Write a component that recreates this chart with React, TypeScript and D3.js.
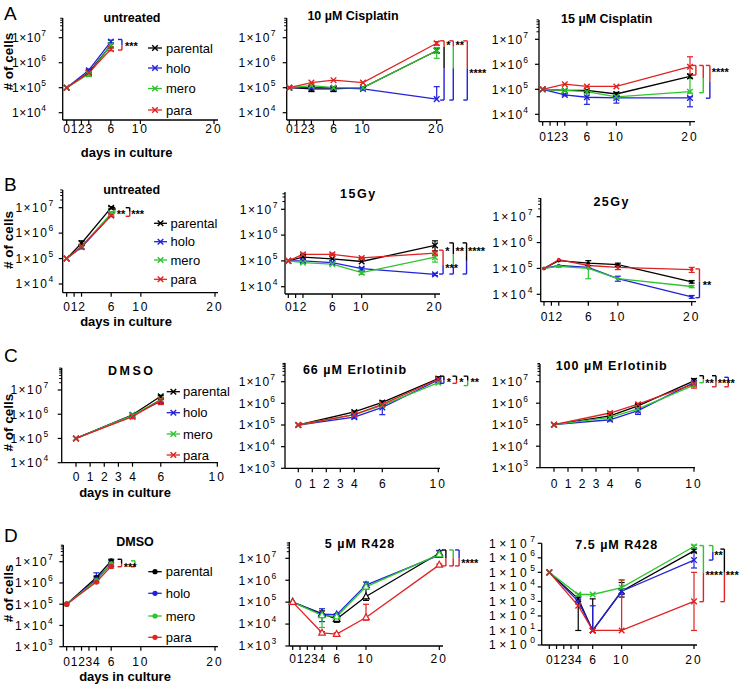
import React from "react";
import * as d3 from "d3";

type Pt = [number, number, number]; // mean, low, high
type Seg = [number, number, string];
type Bracket = { day: number; segs: Seg[] };
type Star = { day: number; value: number; text: string };

const K = "#000000", B = "#2222dc", G = "#2ec42e", R = "#e02222";
const seriesNames = ["parental", "holo", "mero", "para"];
const seriesColors = [K, B, G, R];

// ---------------- Row A ----------------
const A1_days = [0, 3, 6];
const A1_parental: Pt[] = [[1e5, 1e5, 1e5], [4e5, 3.3e5, 5e5], [5e6, 4e6, 6e6]];
const A1_holo: Pt[] = [[1e5, 1e5, 1e5], [5e5, 4e5, 5.6e5], [7e6, 6e6, 8e6]];
const A1_mero: Pt[] = [[1e5, 1e5, 1e5], [3.5e5, 2.8e5, 4.5e5], [5e6, 4e6, 6e6]];
const A1_para: Pt[] = [[1e5, 1e5, 1e5], [4e5, 3.5e5, 4.5e5], [3.5e6, 3e6, 4e6]];
const A1_brackets: Bracket[] = [{ day: 7.5, segs: [[8.5e6, 5e6, B], [5e6, 3.2e6, R]] }];
const A1_stars: Star[] = [{ day: 7.9, value: 5.5e6, text: "***" }];

const A2_days = [0, 3, 6, 10, 20];
const A2_parental: Pt[] = [[1e5, 1e5, 1e5], [9e4, 7e4, 1.1e5], [9e4, 7e4, 1.1e5], [1e5, 1e5, 1e5], [3e6, 2.5e6, 3.8e6]];
const A2_holo: Pt[] = [[1e5, 1e5, 1e5], [1e5, 1e5, 1e5], [1e5, 8e4, 1.1e5], [9e4, 8e4, 1e5], [3.5e4, 3.5e4, 1.1e5]];
const A2_mero: Pt[] = [[1e5, 1e5, 1e5], [1.2e5, 1e5, 1.4e5], [1e5, 1e5, 1e5], [1e5, 1e5, 1e5], [3e6, 1.5e6, 4e6]];
const A2_para: Pt[] = [[1e5, 1e5, 1e5], [1.6e5, 1.6e5, 1.6e5], [2e5, 2e5, 2e5], [1.6e5, 1.6e5, 1.6e5], [6e6, 5e6, 7e6]];
const A2_brackets: Bracket[] = [
  { day: 21.0, segs: [[7.5e6, 4.3e6, R], [4.3e6, 6e5, K], [6e5, 3.2e4, B]] },
  { day: 22.25, segs: [[7.5e6, 4.3e6, R], [4.3e6, 6e5, G], [6e5, 3.2e4, B]] },
  { day: 24.15, segs: [[7.5e6, 6e5, R], [6e5, 3.2e4, B]] },
];
const A2_stars: Star[] = [
  { day: 21.3, value: 6e6, text: "*" },
  { day: 22.55, value: 6e6, text: "**" },
  { day: 24.4, value: 4.7e5, text: "****" },
];

const A3_days = [0, 3, 6, 10, 20];
const A3_parental: Pt[] = [[1e5, 1e5, 1e5], [9e4, 9e4, 9e4], [9e4, 9e4, 9e4], [6.5e4, 5.5e4, 7.5e4], [3.3e5, 2.8e5, 4e5]];
const A3_holo: Pt[] = [[1e5, 1e5, 1e5], [6e4, 5.5e4, 6.5e4], [4.8e4, 2.5e4, 7.5e4], [4.5e4, 2.8e4, 5.5e4], [4.5e4, 2e4, 5e4]];
const A3_mero: Pt[] = [[1e5, 1e5, 1e5], [9e4, 9e4, 9e4], [8e4, 8e4, 8e4], [5e4, 5e4, 5e4], [8e4, 7e4, 3e5]];
const A3_para: Pt[] = [[1e5, 1e5, 1e5], [1.6e5, 1.6e5, 1.6e5], [1.3e5, 1.3e5, 1.3e5], [1.3e5, 1.3e5, 1.3e5], [8e5, 4e5, 2e6]];
const A3_brackets: Bracket[] = [
  { day: 20.8, segs: [[9e5, 3.7e5, R]] },
  { day: 21.8, segs: [[9e5, 2.8e5, R], [2.8e5, 7.3e4, G]] },
  { day: 22.7, segs: [[9e5, 2e5, R], [2e5, 4.4e4, B]] },
];
const A3_stars: Star[] = [{ day: 22.95, value: 5.9e5, text: "****" }];

// ---------------- Row B ----------------
const B1_days = [0, 2, 6];
const B1_parental: Pt[] = [[1e5, 1e5, 1e5], [4e5, 3.5e5, 5e5], [1e7, 9e6, 1.1e7]];
const B1_holo: Pt[] = [[1e5, 1e5, 1e5], [2.8e5, 2.4e5, 3.2e5], [5e6, 4.5e6, 6e6]];
const B1_mero: Pt[] = [[1e5, 1e5, 1e5], [3e5, 3e5, 3e5], [6e6, 5e6, 7e6]];
const B1_para: Pt[] = [[1e5, 1e5, 1e5], [3e5, 3e5, 3e5], [5e6, 4.5e6, 5.5e6]];
const B1_brackets: Bracket[] = [
  { day: 6.5, segs: [[1e7, 8e6, K], [8e6, 6e6, G]] },
  { day: 8.5, segs: [[1e7, 7e6, K], [7e6, 4.6e6, R]] },
];
const B1_stars: Star[] = [
  { day: 6.75, value: 6.5e6, text: "**" },
  { day: 8.7, value: 6.5e6, text: "***" },
];

const B2_days = [0, 2, 6, 10, 20];
const B2_parental: Pt[] = [[1e5, 1e5, 1e5], [1.4e5, 1.4e5, 1.4e5], [1.2e5, 1.2e5, 1.2e5], [9.5e4, 9.5e4, 9.5e4], [4e5, 2.5e5, 6e5]];
const B2_holo: Pt[] = [[1e5, 1e5, 1e5], [1e5, 1e5, 1e5], [8.5e4, 8.5e4, 8.5e4], [5e4, 4.2e4, 5.5e4], [3e4, 2.7e4, 3.3e4]];
const B2_mero: Pt[] = [[1e5, 1e5, 1e5], [8.5e4, 8.5e4, 8.5e4], [7.5e4, 7.5e4, 7.5e4], [3.5e4, 3e4, 4e4], [1.4e5, 9e4, 2e5]];
const B2_para: Pt[] = [[1e5, 1e5, 1e5], [1.8e5, 1.6e5, 2e5], [1.8e5, 1.6e5, 2e5], [1.3e5, 1.2e5, 1.4e5], [2e5, 1.6e5, 2.4e5]];
const B2_brackets: Bracket[] = [
  { day: 21.1, segs: [[2.6e5, 6.9e4, R], [6.9e4, 3.1e4, B]] },
  { day: 22.5, segs: [[5e5, 1.8e5, K], [1.8e5, 6e4, G], [6e4, 3.1e4, B]] },
  { day: 24.3, segs: [[5e5, 1e5, K], [1e5, 3.1e4, B]] },
];
const B2_stars: Star[] = [
  { day: 21.4, value: 2.9e5, text: "*" },
  { day: 22.8, value: 2.9e5, text: "**" },
  { day: 24.5, value: 2.9e5, text: "****" },
  { day: 21.4, value: 6.5e4, text: "***" },
];

const B3_days = [0, 2, 6, 10, 20];
const B3_parental: Pt[] = [[1e5, 1e5, 1e5], [2e5, 2e5, 2e5], [1.6e5, 1.3e5, 2e5], [1.4e5, 1.2e5, 1.6e5], [3e4, 2.7e4, 3.4e4]];
const B3_holo: Pt[] = [[1e5, 1e5, 1e5], [1.3e5, 1.3e5, 1.3e5], [1.1e5, 1.1e5, 1.1e5], [4e4, 3.2e4, 5e4], [8e3, 7e3, 9e3]];
const B3_mero: Pt[] = [[1e5, 1e5, 1e5], [1.2e5, 1.1e5, 1.3e5], [1e5, 4e4, 1.1e5], [4e4, 4e4, 4e4], [2e4, 1.8e4, 2.2e4]];
const B3_para: Pt[] = [[1e5, 1e5, 1e5], [2.2e5, 2.2e5, 2.2e5], [1.3e5, 1.3e5, 1.3e5], [1.1e5, 9e4, 1.3e5], [9e4, 7e4, 1.1e5]];
const B3_brackets: Bracket[] = [{ day: 21.05, segs: [[9.6e4, 3.1e4, R], [3.1e4, 7.4e3, B]] }];
const B3_stars: Star[] = [{ day: 21.5, value: 2.8e4, text: "**" }];

// ---------------- Row C ----------------
const C1_days = [0, 4, 6];
const C1_parental: Pt[] = [[1e5, 1e5, 1e5], [9.5e5, 9.5e5, 9.5e5], [5.5e6, 5e6, 6e6]];
const C1_holo: Pt[] = [[1e5, 1e5, 1e5], [9e5, 9e5, 9e5], [3.5e6, 2.8e6, 4e6]];
const C1_mero: Pt[] = [[1e5, 1e5, 1e5], [9e5, 9e5, 9e5], [4e6, 4e6, 4e6]];
const C1_para: Pt[] = [[1e5, 1e5, 1e5], [8e5, 6.5e5, 9e5], [3.8e6, 2.5e6, 4.5e6]];

const C2_days = [0, 4, 6, 10];
const C2_parental: Pt[] = [[1e5, 1e5, 1e5], [4e5, 3.6e5, 4.4e5], [1.1e6, 9e5, 1.3e6], [1.4e7, 1.2e7, 1.7e7]];
const C2_holo: Pt[] = [[1e5, 1e5, 1e5], [2.3e5, 2e5, 2.6e5], [6.5e5, 3e5, 8e5], [1.2e7, 1e7, 1.4e7]];
const C2_mero: Pt[] = [[1e5, 1e5, 1e5], [3e5, 3e5, 3e5], [8e5, 8e5, 8e5], [9e6, 8e6, 1e7]];
const C2_para: Pt[] = [[1e5, 1e5, 1e5], [3e5, 3e5, 3e5], [9e5, 9e5, 9e5], [1.3e7, 1.3e7, 1.3e7]];
const C2_brackets: Bracket[] = [
  { day: 10.4, segs: [[1.8e7, 1.2e7, K], [1.2e7, 8.4e6, B]] },
  { day: 11.3, segs: [[1.8e7, 1.2e7, K], [1.2e7, 8.4e6, R]] },
  { day: 12.1, segs: [[1.8e7, 1.1e7, K], [1.1e7, 6.6e6, G]] },
];
const C2_stars: Star[] = [
  { day: 10.6, value: 1.2e7, text: "*" },
  { day: 11.5, value: 1.2e7, text: "*" },
  { day: 12.3, value: 1.2e7, text: "**" },
];

const C3_days = [0, 4, 6, 10];
const C3_parental: Pt[] = [[1e5, 1e5, 1e5], [2.6e5, 2.2e5, 3e5], [7.5e5, 6.5e5, 8.5e5], [1.1e7, 9e6, 1.4e7]];
const C3_holo: Pt[] = [[1e5, 1e5, 1e5], [1.7e5, 1.5e5, 1.9e5], [4.5e5, 3e5, 6e5], [9e6, 9e6, 9e6]];
const C3_mero: Pt[] = [[1e5, 1e5, 1e5], [2.2e5, 2.2e5, 2.2e5], [5.5e5, 5.5e5, 5.5e5], [7e6, 6e6, 8e6]];
const C3_para: Pt[] = [[1e5, 1e5, 1e5], [3.5e5, 3e5, 4e5], [9e5, 8e5, 1e6], [8e6, 5e6, 9e6]];
const C3_brackets: Bracket[] = [
  { day: 10.67, segs: [[1.9e7, 1.3e7, K], [1.3e7, 9e6, G]] },
  { day: 11.57, segs: [[1.9e7, 1e7, K], [1e7, 5.8e6, R]] },
  { day: 12.45, segs: [[1.6e7, 1e7, B], [1e7, 5.8e6, R]] },
];
const C3_stars: Star[] = [
  { day: 10.8, value: 1.1e7, text: "**" },
  { day: 11.7, value: 1.1e7, text: "***" },
  { day: 12.6, value: 1.1e7, text: "*" },
];

// ---------------- Row D ----------------
const D1_days = [0, 4, 6];
const D1_parental: Pt[] = [[1e5, 1e5, 1e5], [1.8e6, 1.5e6, 2.1e6], [1.1e7, 9e6, 1.3e7]];
const D1_holo: Pt[] = [[1e5, 1e5, 1e5], [1.5e6, 1.1e6, 3e6], [8e6, 6e6, 1.2e7]];
const D1_mero: Pt[] = [[1e5, 1e5, 1e5], [1.3e6, 1.3e6, 1.3e6], [8e6, 8e6, 8e6]];
const D1_para: Pt[] = [[1e5, 1e5, 1e5], [1.1e6, 1e6, 1.2e6], [6e6, 5e6, 7e6]];
const D1_brackets: Bracket[] = [
  { day: 7.4, segs: [[1.3e7, 8e6, K], [8e6, 5.8e6, R]] },
  { day: 9.2, segs: [[1.1e7, 8e6, G], [8e6, 5.8e6, R]] },
];
const D1_stars: Star[] = [{ day: 7.7, value: 7e6, text: "***" }];

const D2_days = [0, 4, 6, 10, 20];
const D2_parental: Pt[] = [[1e5, 1e5, 1e5], [3e4, 2e4, 4e4], [1.7e4, 1.2e4, 2.2e4], [1.8e5, 1.2e5, 4e5], [1.7e7, 1.4e7, 2.2e7]];
const D2_holo: Pt[] = [[1e5, 1e5, 1e5], [2.8e4, 1.3e4, 5e4], [2.7e4, 2.3e4, 3e4], [6e5, 5e5, 8e5], [1.4e7, 1.2e7, 2.3e7]];
const D2_mero: Pt[] = [[1e5, 1e5, 1e5], [2.5e4, 7e3, 3e4], [2.2e4, 2.2e4, 2.2e4], [5e5, 4e5, 8.5e5], [1.5e7, 1.5e7, 1.5e7]];
const D2_para: Pt[] = [[1e5, 1e5, 1e5], [4e3, 3.5e3, 4.5e3], [3.5e3, 3e3, 4e3], [2e4, 1.5e4, 8e4], [5e6, 4.5e6, 5.5e6]];
const D2_brackets: Bracket[] = [
  { day: 20.9, segs: [[2.4e7, 1e7, K], [1e7, 4.5e6, R]] },
  { day: 21.9, segs: [[2.4e7, 1e7, G], [1e7, 4.5e6, R]] },
  { day: 22.7, segs: [[2.4e7, 1e7, B], [1e7, 4.5e6, R]] },
];
const D2_stars: Star[] = [{ day: 23.0, value: 7.5e6, text: "****" }];

const D3_days = [0, 4, 6, 10, 20];
const D3_parental: Pt[] = [[1e5, 1e5, 1e5], [1.5e3, 1e1, 2e3], [1e1, 1e1, 1.5e3], [5e3, 2e3, 2e4], [3e6, 2.5e6, 4e6]];
const D3_holo: Pt[] = [[1e5, 1e5, 1e5], [1e3, 1e3, 1e3], [1e1, 1e1, 5e2], [5e3, 3e3, 6e3], [7e5, 2e5, 5e6]];
const D3_mero: Pt[] = [[1e5, 1e5, 1e5], [3e3, 2.5e3, 3.5e3], [3e3, 3e3, 3e3], [9e3, 6e3, 3e4], [6e6, 5e6, 7.5e6]];
const D3_para: Pt[] = [[1e5, 1e5, 1e5], [5e2, 5e2, 5e2], [1e1, 1e1, 1e1], [1e1, 1e1, 3e4], [1e3, 1e1, 1e5]];
const D3_brackets: Bracket[] = [
  { day: 21.3, segs: [[7e6, 9.5e4, G], [9.5e4, 9.6e2, R]] },
  { day: 22.6, segs: [[7e6, 2.5e6, G], [2.5e6, 7e5, B]] },
  { day: 24.2, segs: [[4e6, 9.5e4, K], [9.5e4, 9.6e2, R]] },
];
const D3_stars: Star[] = [
  { day: 22.8, value: 2.2e6, text: "**" },
  { day: 21.6, value: 8.6e4, text: "****" },
  { day: 24.4, value: 8.6e4, text: "***" },
];

// ---------------- Tick lists ----------------
const ticksA1 = [0, 1, 2, 3, 6, 10, 20];
const ticksB = [0, 1, 2, 6, 10, 20];
const ticksC = [0, 1, 2, 3, 4, 6, 10];
const ticksD = [0, 1, 2, 3, 4, 6, 10, 20];

type Layout = {
  title: string; tx: number; ty: number; tls: number;
  axisX: number; x0: number; x1: number; xMax: number; xEnd: number;
  loExp: number; loPx: number; hiExp: number; hiPx: number;
  axisTop: number; axisBottom: number;
  ticks: number[]; tickLabelY: number; gap: number; ls: number;
  days: number[]; series: Pt[][]; brackets: Bracket[]; stars: Star[];
  marker: string;
};

const panels: Layout[] = [
  { title: "untreated", tx: 132, ty: 22, tls: 0, axisX: 62.7, x0: 66.7, x1: 214, xMax: 20, xEnd: 218,
    loExp: 4, loPx: 112.7, hiExp: 7, hiPx: 37.7, axisTop: 18, axisBottom: 120,
    ticks: ticksA1, tickLabelY: 132.5, gap: 12, ls: 0.6, days: A1_days,
    series: [A1_parental, A1_holo, A1_mero, A1_para], brackets: A1_brackets, stars: A1_stars, marker: "x" },
  { title: "10  \u00b5M Cisplatin", tx: 353, ty: 19.5, tls: 0, axisX: 286.7, x0: 289.3, x1: 436.7, xMax: 20, xEnd: 441.7,
    loExp: 4, loPx: 112.7, hiExp: 7, hiPx: 37.7, axisTop: 18, axisBottom: 120,
    ticks: ticksA1, tickLabelY: 132.5, gap: 6, ls: 1.3, days: A2_days,
    series: [A2_parental, A2_holo, A2_mero, A2_para], brackets: A2_brackets, stars: A2_stars, marker: "x" },
  { title: "15  \u00b5M Cisplatin", tx: 606.7, ty: 22.5, tls: 0, axisX: 539, x0: 542.7, x1: 690, xMax: 20, xEnd: 695,
    loExp: 4, loPx: 114.3, hiExp: 7, hiPx: 39.3, axisTop: 20, axisBottom: 121.7,
    ticks: ticksA1, tickLabelY: 140.5, gap: 6, ls: 1.1, days: A3_days,
    series: [A3_parental, A3_holo, A3_mero, A3_para], brackets: A3_brackets, stars: A3_stars, marker: "x" },

  { title: "untreated", tx: 131.7, ty: 193.5, tls: 0, axisX: 62.7, x0: 66.7, x1: 215, xMax: 20, xEnd: 218,
    loExp: 4, loPx: 284, hiExp: 7, hiPx: 207.7, axisTop: 190, axisBottom: 292.7,
    ticks: ticksB, tickLabelY: 310.5, gap: 4, ls: 1.5, days: B1_days,
    series: [B1_parental, B1_holo, B1_mero, B1_para], brackets: B1_brackets, stars: B1_stars, marker: "x" },
  { title: "15Gy", tx: 358.3, ty: 197.5, tls: 1.5, axisX: 285, x0: 288.3, x1: 435, xMax: 20, xEnd: 440,
    loExp: 4, loPx: 286.7, hiExp: 7, hiPx: 209.3, axisTop: 192, axisBottom: 294,
    ticks: ticksB, tickLabelY: 310.5, gap: 2, ls: 1.5, days: B2_days,
    series: [B2_parental, B2_holo, B2_mero, B2_para], brackets: B2_brackets, stars: B2_stars, marker: "x" },
  { title: "25Gy", tx: 611.7, ty: 206, tls: 1.5, axisX: 540.7, x0: 544, x1: 691.7, xMax: 20, xEnd: 696,
    loExp: 4, loPx: 294.3, hiExp: 7, hiPx: 216.7, axisTop: 198, axisBottom: 301.7,
    ticks: ticksB, tickLabelY: 320.5, gap: 2, ls: 2.1, days: B3_days,
    series: [B3_parental, B3_holo, B3_mero, B3_para], brackets: B3_brackets, stars: B3_stars, marker: "dot" },

  { title: "DMSO", tx: 131.7, ty: 375, tls: 2.5, axisX: 61.7, x0: 76, x1: 217.3, xMax: 10, xEnd: 218,
    loExp: 4, loPx: 462.7, hiExp: 7, hiPx: 390, axisTop: 368, axisBottom: 462.7,
    ticks: ticksC, tickLabelY: 480.5, gap: 8, ls: 1.5, days: C1_days,
    series: [C1_parental, C1_holo, C1_mero, C1_para], brackets: [], stars: [], marker: "x" },
  { title: "66  \u00b5M Erlotinib", tx: 355, ty: 373.5, tls: 1, axisX: 285, x0: 298.3, x1: 438.3, xMax: 10, xEnd: 440,
    loExp: 3, loPx: 468.3, hiExp: 7, hiPx: 381.7, axisTop: 363, axisBottom: 468.3,
    ticks: ticksC, tickLabelY: 487.5, gap: 5, ls: 1.1, days: C2_days,
    series: [C2_parental, C2_holo, C2_mero, C2_para], brackets: C2_brackets, stars: C2_stars, marker: "x" },
  { title: "100  \u00b5M Erlotinib", tx: 611.7, ty: 370, tls: 1, axisX: 540, x0: 554, x1: 694, xMax: 10, xEnd: 695,
    loExp: 3, loPx: 467.7, hiExp: 7, hiPx: 381.7, axisTop: 364, axisBottom: 467.7,
    ticks: ticksC, tickLabelY: 487.5, gap: 7, ls: 1.1, days: C3_days,
    series: [C3_parental, C3_holo, C3_mero, C3_para], brackets: C3_brackets, stars: C3_stars, marker: "x" },

  { title: "DMSO", tx: 135, ty: 546, tls: 0, axisX: 63.3, x0: 66.7, x1: 215, xMax: 20, xEnd: 218,
    loExp: 3, loPx: 646.7, hiExp: 7, hiPx: 561.7, axisTop: 545, axisBottom: 646.7,
    ticks: ticksD, tickLabelY: 666, gap: 5, ls: 1.5, days: D1_days,
    series: [D1_parental, D1_holo, D1_mero, D1_para], brackets: D1_brackets, stars: D1_stars, marker: "circle" },
  { title: "5  \u00b5M  R428", tx: 360, ty: 547.5, tls: 1, axisX: 289.3, x0: 292.7, x1: 439.3, xMax: 20, xEnd: 443,
    loExp: 3, loPx: 646, hiExp: 7, hiPx: 558.3, axisTop: 542, axisBottom: 646,
    ticks: ticksD, tickLabelY: 662.5, gap: 7.5, ls: 1.5, days: D2_days,
    series: [D2_parental, D2_holo, D2_mero, D2_para], brackets: D2_brackets, stars: D2_stars, marker: "tri" },
  { title: "7.5  \u00b5M  R428", tx: 616.7, ty: 549, tls: 1, axisX: 541.7, x0: 549.3, x1: 694, xMax: 20, xEnd: 697,
    loExp: 0, loPx: 645, hiExp: 7, hiPx: 543.3, axisTop: 543.3, axisBottom: 645,
    ticks: ticksD, tickLabelY: 663.5, gap: -1, ls: 3.6, days: D3_days,
    series: [D3_parental, D3_holo, D3_mero, D3_para], brackets: D3_brackets, stars: D3_stars, marker: "x" },
];

type LegendCfg = { lx0: number; lx1: number; tx: number; ys: number[]; marker: string };
const legends: LegendCfg[] = [
  { lx0: 148, lx1: 162, tx: 166, ys: [48, 68, 88.5, 110], marker: "x" },
  { lx0: 154, lx1: 167, tx: 170.5, ys: [223.3, 241.7, 260, 279.3], marker: "x" },
  { lx0: 166.7, lx1: 180, tx: 183, ys: [391.7, 412.7, 434, 455], marker: "x" },
  { lx0: 148.3, lx1: 161.7, tx: 165.7, ys: [571.7, 593.3, 616, 637.3], marker: "circle" },
];

const rowLabels = [
  { letter: "A", lx: 4, ly: 20, yl: 61.7, xl: 126.7, xlY: 156.5 },
  { letter: "B", lx: 4, ly: 191, yl: 240, xl: 126, xlY: 326 },
  { letter: "C", lx: 4, ly: 362, yl: 422.7, xl: 125, xlY: 497 },
  { letter: "D", lx: 4, ly: 542, yl: 593.3, xl: 125, xlY: 681 },
];

const FONT = "'Liberation Sans', Arial, Helvetica, sans-serif";

function Marker({ kind, x, y, color }: { kind: string; x: number; y: number; color: string }) {
  if (kind === "circle") return <circle cx={x} cy={y} r={2.6} fill={color} />;
  if (kind === "dot") return <circle cx={x} cy={y} r={1.8} fill={color} />;
  if (kind === "tri")
    return <path d={`M${x},${y - 3.6}L${x + 3.3},${y + 2.3}L${x - 3.3},${y + 2.3}Z`} fill="#fff" stroke={color} strokeWidth={1.2} />;
  const s = 2.8;
  return <path d={`M${x - s},${y - s}L${x + s},${y + s}M${x - s},${y + s}L${x + s},${y - s}`} stroke={color} strokeWidth={1.4} />;
}

function Panel({ L }: { L: Layout }) {
  const x = d3.scaleLinear().domain([0, L.xMax]).range([L.x0, L.x1]);
  const y = d3.scaleLog().domain([10 ** L.loExp, 10 ** L.hiExp]).range([L.loPx, L.hiPx]);
  const line = d3.line<[number, number]>().x((d) => x(d[0])).y((d) => y(d[1]));
  const decades = d3.range(L.loExp, L.hiExp + 1);
  const minor: number[] = [];
  for (let k = 2; k <= 9; k++) {
    const v = k * 10 ** L.hiExp;
    if (y(v) >= L.axisTop - 0.5) minor.push(v);
  }
  const order = [0, 1, 2, 3];
  return (
    <g>
      <text x={L.tx} y={L.ty} textAnchor="middle" fontFamily={FONT} fontWeight="bold" fontSize={12.5} letterSpacing={L.tls}>
        {L.title}
      </text>
      <line x1={L.axisX} x2={L.axisX} y1={L.axisTop} y2={L.axisBottom} stroke="#000" strokeWidth={1.3} />
      <line x1={L.axisX} x2={L.xEnd} y1={L.axisBottom} y2={L.axisBottom} stroke="#000" strokeWidth={1.3} />
      {decades.map((e) => (
        <g key={"d" + e}>
          <line x1={L.axisX - 4} x2={L.axisX} y1={y(10 ** e)} y2={y(10 ** e)} stroke="#000" strokeWidth={1.2} />
          <text x={L.axisX - L.gap - 4} y={y(10 ** e) + 4.3} textAnchor="end" fontFamily={FONT} fontSize={12} letterSpacing={L.ls}>
            1×10<tspan dy={-6} fontSize={8.5}>{e}</tspan>
          </text>
        </g>
      ))}
      {minor.map((v) => (
        <line key={"m" + v} x1={L.axisX - 2.5} x2={L.axisX} y1={y(v)} y2={y(v)} stroke="#000" strokeWidth={1} />
      ))}
      {L.ticks.map((t) => (
        <g key={"t" + t}>
          <line x1={x(t)} x2={x(t)} y1={L.axisBottom} y2={L.axisBottom + 4} stroke="#000" strokeWidth={1.2} />
          <text x={x(t)} y={L.tickLabelY} textAnchor="middle" fontFamily={FONT} fontSize={12} letterSpacing={t >= 10 ? 2 : 0}>
            {t}
          </text>
        </g>
      ))}
      {order.map((si) => (
        <path key={"l" + si} d={line(L.days.map((d, i) => [d, L.series[si][i][0]]))!} fill="none" stroke={seriesColors[si]} strokeWidth={1.3} />
      ))}
      {order.map((si) =>
        L.days.map((d, i) => {
          const [m, lo, hi] = L.series[si][i];
          if (lo === m && hi === m) return null;
          const cx = x(d);
          return (
            <g key={`e${si}-${i}`} stroke={seriesColors[si]} strokeWidth={1.2}>
              <line x1={cx} x2={cx} y1={y(lo)} y2={y(hi)} />
              {hi !== m && <line x1={cx - 3} x2={cx + 3} y1={y(hi)} y2={y(hi)} />}
              {lo !== m && <line x1={cx - 3} x2={cx + 3} y1={y(lo)} y2={y(lo)} />}
            </g>
          );
        })
      )}
      {order.map((si) =>
        L.days.map((d, i) => (
          <Marker key={`p${si}-${i}`} kind={L.marker} x={x(d)} y={y(L.series[si][i][0])} color={seriesColors[si]} />
        ))
      )}
      {L.brackets.map((b, bi) => {
        const bx = x(b.day);
        const top = b.segs[0];
        const bot = b.segs[b.segs.length - 1];
        return (
          <g key={"b" + bi} strokeWidth={1.4}>
            {b.segs.map((s, si) => (
              <line key={si} x1={bx} x2={bx} y1={y(s[0])} y2={y(s[1])} stroke={s[2]} />
            ))}
            <line x1={bx - 4} x2={bx} y1={y(top[0])} y2={y(top[0])} stroke={top[2]} />
            <line x1={bx - 4} x2={bx} y1={y(bot[1])} y2={y(bot[1])} stroke={bot[2]} />
          </g>
        );
      })}
      {L.stars.map((s, i) => (
        <text key={"s" + i} x={x(s.day)} y={y(s.value) + 6} fontFamily={FONT} fontSize={11} fontWeight="bold">
          {s.text}
        </text>
      ))}
    </g>
  );
}

function Legend({ c }: { c: LegendCfg }) {
  return (
    <g>
      {seriesNames.map((n, i) => (
        <g key={n}>
          <line x1={c.lx0} x2={c.lx1} y1={c.ys[i]} y2={c.ys[i]} stroke={seriesColors[i]} strokeWidth={1.3} />
          <Marker kind={c.marker} x={(c.lx0 + c.lx1) / 2} y={c.ys[i]} color={seriesColors[i]} />
          <text x={c.tx} y={c.ys[i] + 4.5} fontFamily={FONT} fontSize={13}>
            {n}
          </text>
        </g>
      ))}
    </g>
  );
}

export default function App() {
  return (
    <svg width={741} height={686} style={{ position: "absolute", left: 0, top: 0 }} xmlns="http://www.w3.org/2000/svg">
      <rect width={741} height={686} fill="#fff" />
      {rowLabels.map((r) => (
        <g key={r.letter}>
          <text x={r.lx} y={r.ly} fontFamily={FONT} fontSize={19}>{r.letter}</text>
          <text transform={`translate(13,${r.yl}) rotate(-90)`} textAnchor="middle" fontFamily={FONT} fontWeight="bold" fontSize={13.5}>
            # of cells
          </text>
          <text x={r.xl} y={r.xlY} textAnchor="middle" fontFamily={FONT} fontWeight="bold" fontSize={13}>
            days in culture
          </text>
        </g>
      ))}
      {panels.map((L, i) => (
        <Panel key={i} L={L} />
      ))}
      {legends.map((c, i) => (
        <Legend key={i} c={c} />
      ))}
    </svg>
  );
}
